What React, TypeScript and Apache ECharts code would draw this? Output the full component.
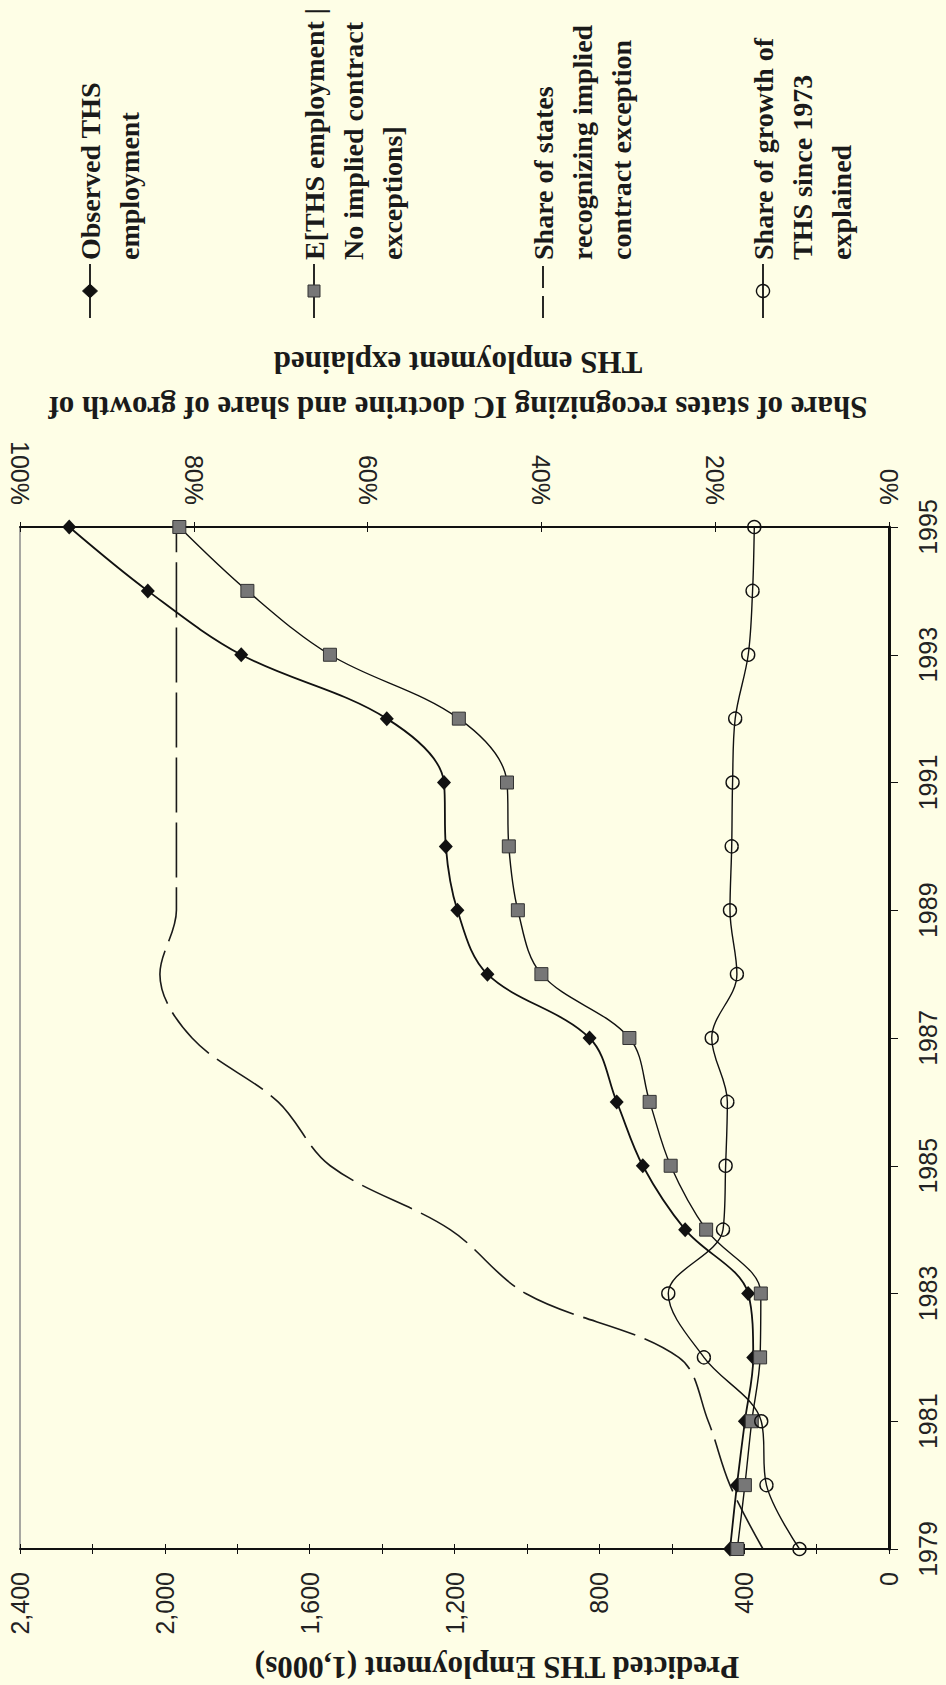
import React, { useEffect, useRef } from "react";
import * as echarts from "echarts";

// ---- Data ----
const years = ["1979","1980","1981","1982","1983","1984","1985","1986","1987","1988","1989","1990","1991","1992","1993","1994","1995"];
// Observed THS employment (1,000s)
const observed = [439, 420, 398, 375, 389, 563, 680, 752, 827, 1109, 1192, 1224, 1229, 1387, 1789, 2047, 2264];
// E[THS employment | No implied contract exceptions] (1,000s)
const expectedNoIC = [419, 398, 379, 356, 354, 505, 603, 661, 717, 960, 1025, 1050, 1055, 1188, 1544, 1772, 1960];
// Share of states recognizing implied contract exception (%)
const shareStates = [14.5, 18.3, 20.8, 24.2, 41.8, 50.5, 64.3, 70.3, 80.2, 83.9, 82, 82, 82, 82, 82, 82, 82];
// Share of growth of THS since 1973 explained (%)
const shareGrowth = [10.3, 14.1, 14.7, 21.3, 25.4, 19.1, 18.8, 18.6, 20.4, 17.5, 18.3, 18.1, 18.0, 17.7, 16.2, 15.7, 15.5];

const empMin = 0;
const empMax = 2400;
const empStep = 200;
const empLabelStep = 400;
const pctMin = 0;
const pctMax = 100;
const pctStep = 20;

const legendItems = [
  { text: "Observed THS\nemployment", mark: "diamond" },
  { text: "E[THS employment |\nNo implied contract\nexceptions]", mark: "square" },
  { text: "Share of states\nrecognizing implied\ncontract exception", mark: "dash" },
  { text: "Share of growth of\nTHS since 1973\nexplained", mark: "circle" },
];
const legendX = [90, 314, 543, 763];

const yTitle = "Predicted THS Employment (1,000s)";
const pctTitle = "Share of states recognizing IC doctrine and share of growth of\nTHS employment explained";

const BG = "#FEFEE6";
const INK = "#111111";
const SANS = '"Liberation Sans", Arial, sans-serif';
const SERIF = '"Liberation Serif", "Times New Roman", serif';

function legendGraphic() {
  return legendItems.map((it, i) => {
    const children: any[] = [
      {
        type: "line",
        shape: { x1: 0, y1: 0, x2: 54, y2: 0 },
        style: { stroke: INK, lineWidth: 1.8, lineDash: it.mark === "dash" ? [22, 8] : null },
      },
    ];
    if (it.mark === "diamond") {
      children.push({
        type: "polygon",
        shape: { points: [[27, -7.5], [34, 0], [27, 7.5], [20, 0]] },
        style: { fill: INK, stroke: INK },
      });
    } else if (it.mark === "square") {
      children.push({
        type: "rect",
        shape: { x: 21, y: -6, width: 12, height: 12 },
        style: { fill: "#777777", stroke: "#333333", lineWidth: 1 },
      });
    } else if (it.mark === "circle") {
      children.push({
        type: "circle",
        shape: { cx: 27, cy: 0, r: 6.5 },
        style: { fill: "none", stroke: INK, lineWidth: 1.4 },
      });
    }
    children.push({
      type: "text",
      x: 58,
      y: -19.5,
      style: {
        text: it.text,
        font: `bold 28px ${SERIF}`,
        fill: "#1a1a1a",
        lineHeight: 39,
        align: "left",
        verticalAlign: "top",
        textAlign: "left",
        textVerticalAlign: "top",
      },
    });
    return {
      type: "group",
      x: legendX[i],
      y: 318,
      rotation: Math.PI / 2,
      children,
    };
  });
}

function buildOption(): any {
  const empAxisBase = {
    type: "value",
    gridIndex: 0,
    position: "bottom",
    min: empMin,
    max: empMax,
    interval: empStep,
    inverse: true,
    splitLine: { show: false },
  };
  const pctAxisBase = {
    type: "value",
    gridIndex: 0,
    position: "top",
    min: pctMin,
    max: pctMax,
    interval: pctStep,
    inverse: true,
    splitLine: { show: false },
  };
  return {
    animation: false,
    backgroundColor: BG,
    grid: {
      left: 20,
      right: 57,
      top: 527,
      bottom: 136,
      containLabel: false,
      show: true,
      borderColor: "#8a8a8a",
      borderWidth: 1.5,
      backgroundColor: "transparent",
    },
    xAxis: [
      {
        ...empAxisBase,
        axisLine: { show: true, lineStyle: { color: INK, width: 2 } },
        axisTick: { show: true, length: 5, lineStyle: { color: INK, width: 1 } },
        axisLabel: {
          show: true,
          rotate: 90,
          margin: 23,
          fontFamily: SANS,
          fontSize: 25,
          color: "#222",
          showMinLabel: true,
          showMaxLabel: true,
          formatter: (v: number) => (v % empLabelStep === 0 ? v.toLocaleString("en-US") : ""),
        },
      },
      {
        ...empAxisBase,
        axisLine: { show: false },
        axisTick: { show: true, inside: true, length: 5, lineStyle: { color: INK, width: 1 } },
        axisLabel: { show: false },
      },
      {
        ...pctAxisBase,
        axisLine: { show: true, lineStyle: { color: INK, width: 2 } },
        axisTick: { show: true, length: 5, lineStyle: { color: INK, width: 1 } },
        axisLabel: {
          show: true,
          rotate: 90,
          margin: 22,
          fontFamily: SANS,
          fontSize: 25,
          color: "#222",
          showMinLabel: true,
          showMaxLabel: true,
          formatter: "{value}%",
        },
      },
      {
        ...pctAxisBase,
        axisLine: { show: false },
        axisTick: { show: true, inside: true, length: 5, lineStyle: { color: INK, width: 1 } },
        axisLabel: { show: false },
      },
    ],
    yAxis: [
      {
        type: "category",
        gridIndex: 0,
        position: "right",
        data: years,
        boundaryGap: false,
        axisLine: { show: true, lineStyle: { color: INK, width: 3 } },
        axisTick: { show: true, interval: 1, length: 9, lineStyle: { color: INK, width: 1 } },
        axisLabel: {
          show: true,
          interval: 1,
          rotate: 90,
          margin: 26,
          fontFamily: SANS,
          fontSize: 25,
          color: "#222",
        },
        splitLine: { show: false },
      },
    ],
    graphic: [
      ...legendGraphic(),
      {
        type: "text",
        x: 458,
        y: 385,
        rotation: Math.PI,
        style: {
          text: pctTitle,
          font: `bold 31px ${SERIF}`,
          fill: "#1a1a1a",
          lineHeight: 45,
          align: "center",
          verticalAlign: "middle",
          textAlign: "center",
          textVerticalAlign: "middle",
        },
      },
      {
        type: "text",
        x: 497,
        y: 1667,
        rotation: Math.PI,
        style: {
          text: yTitle,
          font: `bold 31px ${SERIF}`,
          fill: "#1a1a1a",
          align: "center",
          verticalAlign: "middle",
          textAlign: "center",
          textVerticalAlign: "middle",
        },
      },
    ],
    series: [
      {
        name: "Share of states recognizing implied contract exception",
        type: "line",
        xAxisIndex: 2,
        yAxisIndex: 0,
        data: years.map((y, i) => [shareStates[i], y]),
        smooth: 0.35,
        showSymbol: false,
        symbol: "none",
        lineStyle: { color: "#1a1a1a", width: 1.6, type: [55, 10] },
        z: 2,
      },
      {
        name: "Observed THS employment",
        type: "line",
        xAxisIndex: 0,
        yAxisIndex: 0,
        data: years.map((y, i) => [observed[i], y]),
        smooth: 0.35,
        symbol: "diamond",
        symbolSize: [14, 15],
        itemStyle: { color: INK },
        lineStyle: { color: INK, width: 1.8 },
        z: 3,
      },
      {
        name: "E[THS employment | No implied contract exceptions]",
        type: "line",
        xAxisIndex: 0,
        yAxisIndex: 0,
        data: years.map((y, i) => [expectedNoIC[i], y]),
        smooth: 0.35,
        symbol: "rect",
        symbolSize: 13,
        itemStyle: { color: "#777777", borderColor: "#333333", borderWidth: 1 },
        lineStyle: { color: INK, width: 1.4 },
        z: 4,
      },
      {
        name: "Share of growth of THS since 1973 explained",
        type: "line",
        xAxisIndex: 2,
        yAxisIndex: 0,
        data: years.map((y, i) => [shareGrowth[i], y]),
        smooth: 0.35,
        symbol: "circle",
        symbolSize: 13,
        itemStyle: { color: "rgba(0,0,0,0)", borderColor: INK, borderWidth: 1.4 },
        lineStyle: { color: INK, width: 1.4 },
        z: 5,
      },
    ],
  };
}

export default function App() {
  const ref = useRef<HTMLDivElement>(null);
  useEffect(() => {
    document.body.style.margin = "0";
    document.body.style.background = BG;
    const chart = echarts.init(ref.current as HTMLDivElement, null, { renderer: "svg" });
    chart.setOption(buildOption());
    return () => {
      chart.dispose();
    };
  }, []);
  return (
    <div
      ref={ref}
      style={{ position: "absolute", left: 0, top: 0, width: 946, height: 1685, background: BG }}
    />
  );
}
